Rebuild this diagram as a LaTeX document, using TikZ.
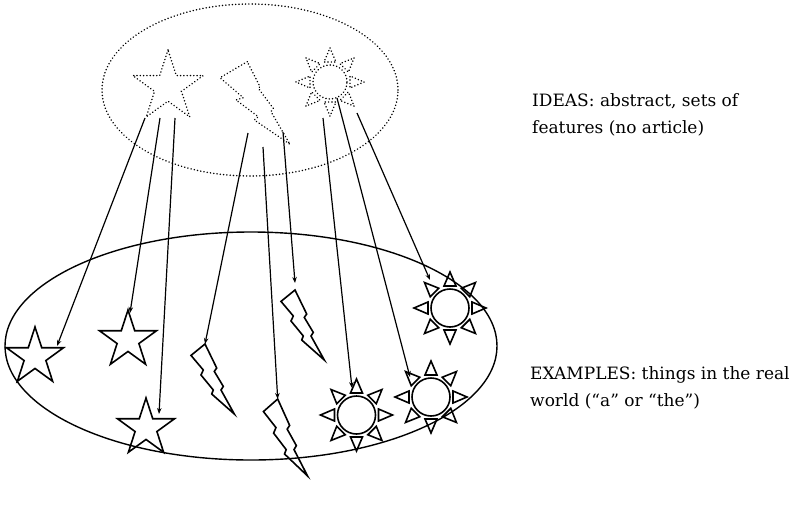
\documentclass[tikz,border=0pt]{standalone}
\usepackage{fontspec}
\setmainfont{DejaVu Serif}
\usetikzlibrary{shapes.geometric,arrows.meta,calc}
\tikzset{
  solidshape/.style={draw=black, line width=1.6pt, line join=miter},
  dotshape/.style={draw=black, line width=1.6pt, line cap=round, dash pattern=on 0.1pt off 3.2pt},
  conn/.style={draw=black, line width=1.2pt, -{Stealth[length=6pt,width=4.5pt]}},
  lbl/.style={anchor=north west, align=left, inner sep=0pt, font=\fontsize{17}{27}\selectfont},
  mystar/.style={star, star points=5, star point ratio=2.618, inner sep=0pt},
}
\newcommand\mysun[6]{% name, x, y, circle r, ray base r, ray apex r ; style via \sunstyle
  \node[circle, minimum size=2*#4, inner sep=0pt, \sunstyle] (#1) at (#2,#3) {};
  \foreach \a in {0,45,...,315} {
    \draw[\sunstyle] ($(#1)+(\a:#6)$) -- ($(#1)+(\a:#5)+(\a+90:6)$) -- ($(#1)+(\a:#5)+(\a-90:6)$) -- cycle;
  }
}
\newcommand\bolt[2]{% shift, style
  \draw[#2, shift={#1}] (0,0) -- (-14,11.4) -- (-1.7,26) -- (-4,31) -- (8.3,46) -- (6.7,50) -- (29.3,70)
     -- (16,46) -- (18.3,42.4) -- (9.3,27.4) -- (11.7,24) -- cycle;
}
\begin{document}
\begin{tikzpicture}[x=1pt,y=-1pt]
\useasboundingbox (0,0) rectangle (799,506);
% ellipses
\node[ellipse, dotshape, minimum width=296pt, minimum height=172pt, inner sep=0pt] (ideas) at (250,90) {};
\node[ellipse, draw, line width=1.4pt, minimum width=492pt, minimum height=228pt, inner sep=0pt] (examples) at (251,346) {};
% ideas (dotted)
\node[mystar, dotshape, minimum size=74pt] (dstar) at (168,87) {};
\draw[dotshape] (247.3,61.7) -- (220,77.7) -- (243.3,97.7) -- (236,100) -- (258.3,116.7) -- (254.3,120) -- (290,144.3)
   -- (271,111.7) -- (273.3,108.3) -- (258.3,88.3) -- (260,86.7) -- cycle;
\def\sunstyle{dotshape}
\mysun{dsun}{330}{82}{17}{20}{34}
% examples
\node[mystar, solidshape, minimum size=60pt] (star1) at (35,357) {};
\node[mystar, solidshape, minimum size=60pt] (star2) at (128,340) {};
\node[mystar, solidshape, minimum size=60pt] (star3) at (146,428) {};
\bolt{(205,344)}{solidshape}
\coordinate (bolt1) at (205,344);
\bolt{(295,290)}{solidshape}
\coordinate (bolt2) at (295,283);
\begin{scope}[shift={(277.7,399)}, yscale=1.1, xscale=1.02]
\bolt{(0,0)}{solidshape}
\end{scope}
\coordinate (bolt3) at (277.7,399);
\def\sunstyle{solidshape}
\mysun{sun1}{450}{308}{19}{22}{36}
\mysun{sun2}{356.5}{415}{19}{22}{36}
\mysun{sun3}{431}{397}{19}{22}{36}
% connector end points
\coordinate (sa1) at (145,118); \coordinate (ea1) at (57,346);
\coordinate (sa2) at (160,118); \coordinate (ea2) at (130,313);
\coordinate (sa3) at (175,118); \coordinate (ea3) at (159,414);
\coordinate (sb1) at (248,133);
\coordinate (sb2) at (263,147);
\coordinate (sb3) at (283,132);
\coordinate (sc1) at (323,118); \coordinate (ec1) at (352,388);
\coordinate (sc2) at (337,98);  \coordinate (ec2) at (410,377);
\coordinate (sc3) at (357,113); \coordinate (ec3) at (430,280);
\draw[conn] (sa1) -- (ea1);
\draw[conn] (sa2) -- (ea2);
\draw[conn] (sa3) -- (ea3);
\draw[conn] (sb1) -- (bolt1);
\draw[conn] (sb2) -- (bolt3);
\draw[conn] (sb3) -- (bolt2);
\draw[conn] (sc1) -- (ec1);
\draw[conn] (sc2) -- (ec2);
\draw[conn] (sc3) -- (ec3);
% labels
\node[lbl] (ideastext) at (532,93) {IDEAS: abstract, sets of\\features (no article)};
\node[lbl] (extext) at (530,366) {EXAMPLES: things in the real\\world (“a” or “the”)};
\end{tikzpicture}
\end{document}
